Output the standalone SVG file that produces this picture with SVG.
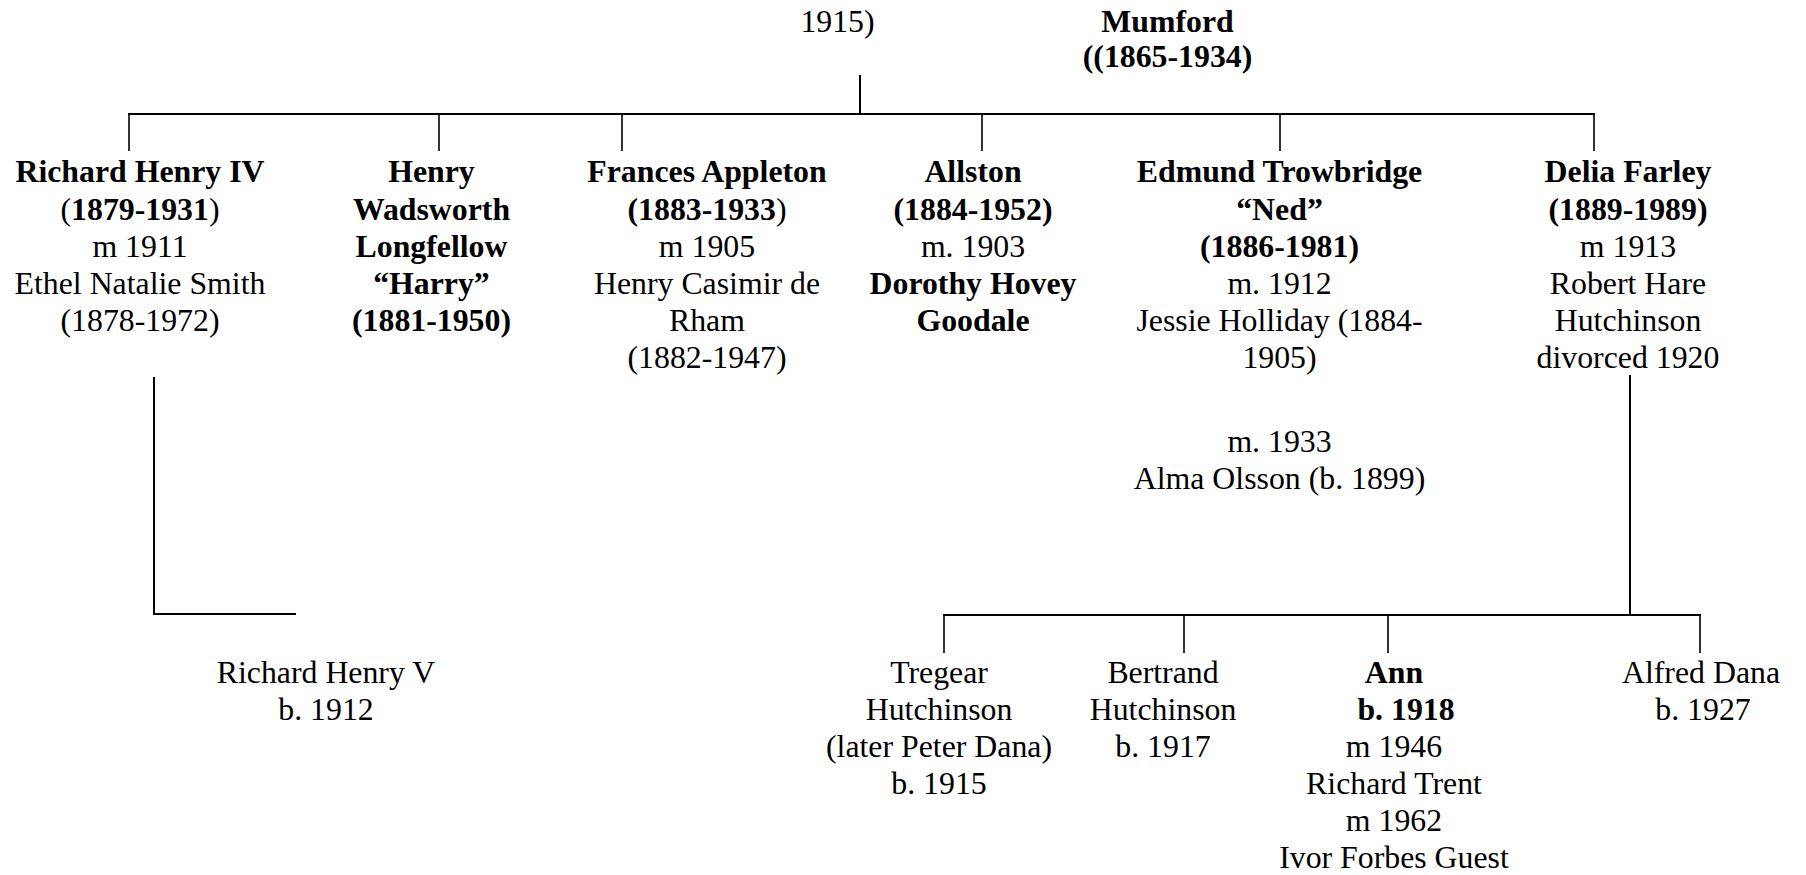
<svg xmlns="http://www.w3.org/2000/svg" width="1806" height="875" viewBox="0 0 1806 875">
<style>
text{font-family:"Liberation Serif","Times New Roman",serif;font-size:31.8px;fill:#000;text-anchor:middle}
.b{font-weight:bold}
.r{font-weight:normal}
.ln{stroke:#000;stroke-width:2;fill:none}
.dr{stroke:#000;stroke-width:1.6;fill:none}
</style>
<rect width="1806" height="875" fill="#fff"/>
<g id="connectors">
<line class="ln" x1="860" y1="75" x2="860" y2="114"/>
<line class="ln" x1="128" y1="114" x2="1595" y2="114"/>
<line class="dr" x1="129" y1="114" x2="129" y2="151"/>
<line class="dr" x1="439" y1="114" x2="439" y2="151"/>
<line class="dr" x1="622" y1="114" x2="622" y2="151"/>
<line class="dr" x1="982" y1="114" x2="982" y2="151"/>
<line class="dr" x1="1280" y1="114" x2="1280" y2="151"/>
<line class="dr" x1="1594" y1="114" x2="1594" y2="151"/>
<polyline class="ln" points="154,377 154,614 296,614"/>
<line class="ln" x1="1630" y1="375" x2="1630" y2="615"/>
<line class="ln" x1="943" y1="615" x2="1701" y2="615"/>
<line class="dr" x1="944" y1="615" x2="944" y2="653"/>
<line class="dr" x1="1184" y1="615" x2="1184" y2="653"/>
<line class="dr" x1="1388" y1="615" x2="1388" y2="653"/>
<line class="dr" x1="1700" y1="615" x2="1700" y2="653"/>
</g>
<g id="node-top-left">
<text x="837.5" y="32">1915)</text>
</g>
<g id="node-mumford">
<text x="1167.5" y="32" class="b">Mumford</text>
<text x="1167.5" y="67" class="b">((1865-1934)</text>
</g>
<g id="node-richard-henry-iv">
<text x="140" y="182" class="b">Richard Henry IV</text>
<text x="140" y="219.5"><tspan class="r">(</tspan><tspan class="b">1879-1931</tspan><tspan class="r">)</tspan></text>
<text x="140" y="256.5">m 1911</text>
<text x="140" y="294">Ethel Natalie Smith</text>
<text x="140" y="331">(1878-1972)</text>
</g>
<g id="node-henry-wadsworth">
<text x="431.5" y="182" class="b">Henry</text>
<text x="431.5" y="219.5" class="b">Wadsworth</text>
<text x="431.5" y="256.5" class="b">Longfellow</text>
<text x="431.5" y="294" class="b">“Harry”</text>
<text x="431.5" y="331" class="b">(1881-1950)</text>
</g>
<g id="node-frances-appleton">
<text x="707" y="182" class="b">Frances Appleton</text>
<text x="707" y="219.5"><tspan class="b">(1883-1933</tspan><tspan class="r">)</tspan></text>
<text x="707" y="256.5">m 1905</text>
<text x="707" y="294">Henry Casimir de</text>
<text x="707" y="331">Rham</text>
<text x="707" y="368">(1882-1947)</text>
</g>
<g id="node-allston">
<text x="973" y="182" class="b">Allston</text>
<text x="973" y="219.5" class="b">(1884-1952)</text>
<text x="973" y="256.5">m. 1903</text>
<text x="973" y="294" class="b">Dorothy Hovey</text>
<text x="973" y="331" class="b">Goodale</text>
</g>
<g id="node-edmund-trowbridge">
<text x="1279.5" y="182" class="b">Edmund Trowbridge</text>
<text x="1279.5" y="219.5" class="b">“Ned”</text>
<text x="1279.5" y="256.5" class="b">(1886-1981)</text>
<text x="1279.5" y="294">m. 1912</text>
<text x="1279.5" y="331">Jessie Holliday (1884-</text>
<text x="1279.5" y="368">1905)</text>
<text x="1279.5" y="452">m. 1933</text>
<text x="1279.5" y="489">Alma Olsson (b. 1899)</text>
</g>
<g id="node-delia-farley">
<text x="1628" y="182" class="b">Delia Farley</text>
<text x="1628" y="219.5" class="b">(1889-1989)</text>
<text x="1628" y="256.5">m 1913</text>
<text x="1628" y="294">Robert Hare</text>
<text x="1628" y="331">Hutchinson</text>
<text x="1628" y="368">divorced 1920</text>
</g>
<g id="node-richard-henry-v">
<text x="326" y="683">Richard Henry V</text>
<text x="326" y="720">b. 1912</text>
</g>
<g id="node-tregear">
<text x="939" y="683">Tregear</text>
<text x="939" y="720">Hutchinson</text>
<text x="939" y="757">(later Peter Dana)</text>
<text x="939" y="794">b. 1915</text>
</g>
<g id="node-bertrand">
<text x="1163" y="683">Bertrand</text>
<text x="1163" y="720">Hutchinson</text>
<text x="1163" y="757">b. 1917</text>
</g>
<g id="node-ann">
<text x="1394" y="683" class="b">Ann</text>
<text x="1406" y="720" class="b">b. 1918</text>
<text x="1394" y="757">m 1946</text>
<text x="1394" y="794">Richard Trent</text>
<text x="1394" y="831">m 1962</text>
<text x="1394" y="868">Ivor Forbes Guest</text>
</g>
<g id="node-alfred-dana">
<text x="1701" y="683">Alfred Dana</text>
<text x="1703" y="720">b. 1927</text>
</g>
</svg>
